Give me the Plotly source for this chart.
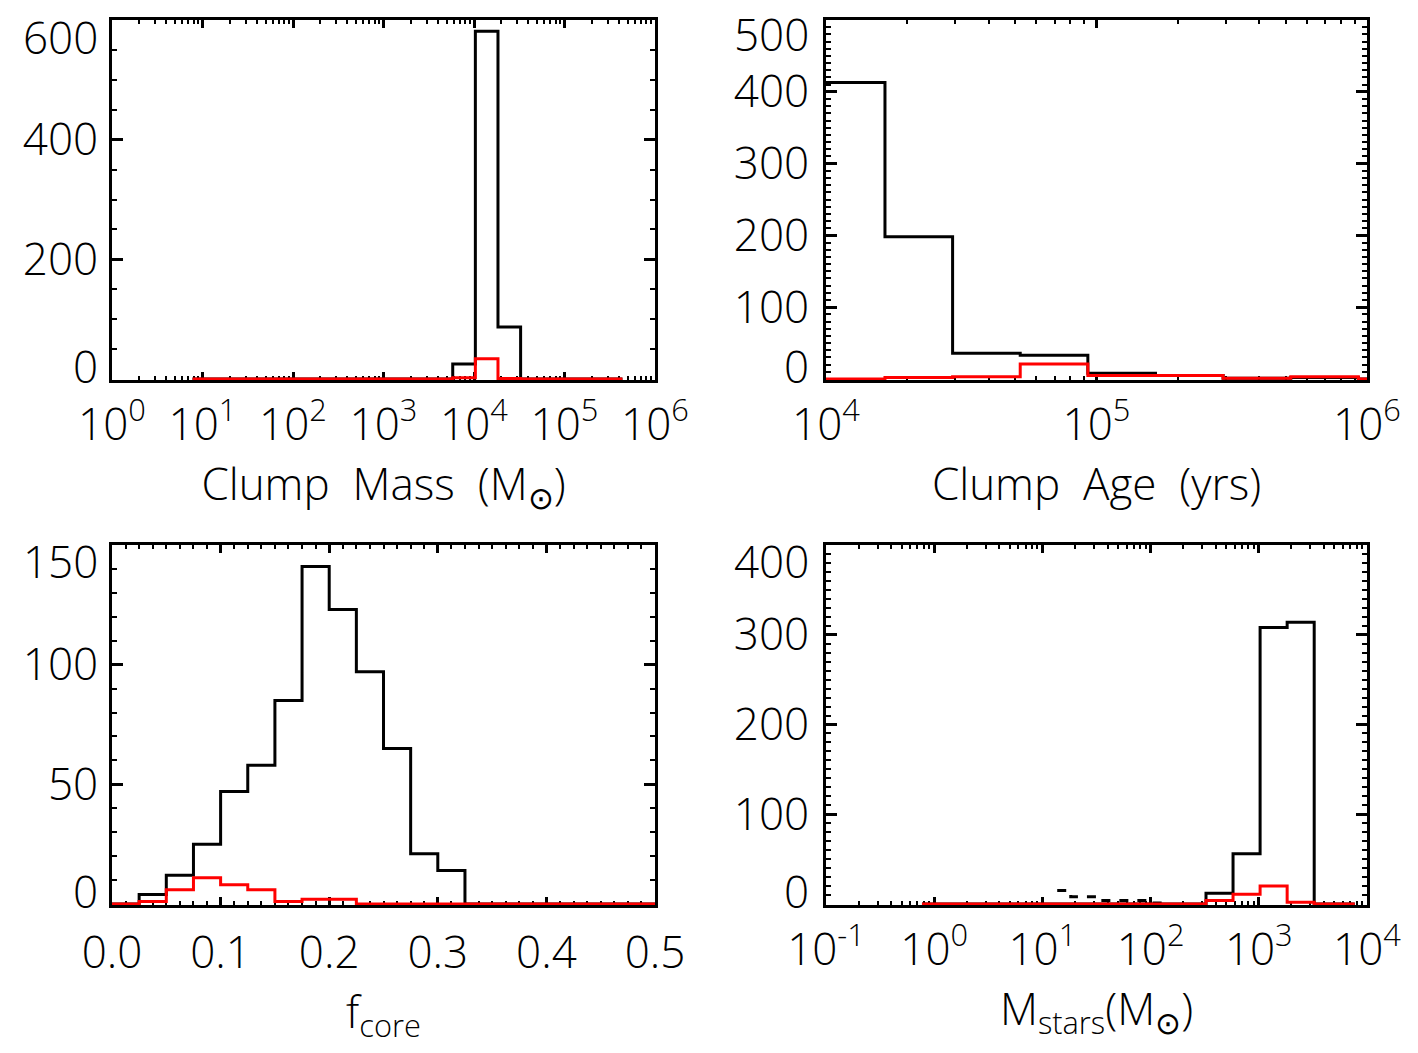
import plotly.graph_objects as go

# ---------------- data (histograms, IDL psym=10 style: bin centres + counts) ----------------
# Panel 1: clump mass, log10(M/Msun) bin centres
mass_logc = [0.89, 1.14, 1.39, 1.64, 1.89, 2.14, 2.39, 2.64, 2.89, 3.14,
             3.39, 3.64, 3.89, 4.14, 4.39, 4.64, 4.89, 5.14, 5.39, 5.64]
mass_all = [0, 0, 0, 0, 0, 0, 0, 0, 0, 0, 0, 0, 25, 581, 87, 0, 0, 0, 0, 0]
mass_sel = [0, 0, 0, 0, 0, 0, 0, 0, 0, 0, 0, 0, 2, 34, 1, 0, 0, 0, 0, 0]

# Panel 2: clump age, log10(yr) bin centres
age_logc = [3.843, 4.093, 4.343, 4.593, 4.843, 5.093, 5.343, 5.593, 5.843, 6.093]
age_all = [413, 413, 198, 36, 33, 8, 5, 1, 2, 0]
age_sel = [0, 0, 2, 3, 21, 5, 5, 1, 3, 0]

# Panel 3: core fraction bin centres
fcore_c = [-0.0125, 0.0125, 0.0375, 0.0625, 0.0875, 0.1125, 0.1375, 0.1625, 0.1875,
           0.2125, 0.2375, 0.2625, 0.2875, 0.3125, 0.3375, 0.3625, 0.3875, 0.4125,
           0.4375, 0.4625, 0.4875, 0.5125]
fcore_all = [0, 0, 4, 12, 25, 47, 58, 85, 141, 123, 97, 65, 21, 14, 0, 0, 0, 0, 0, 0, 0, 0]
fcore_sel = [0, 0, 1, 6, 11, 8, 6, 1, 2, 2, 0, 0, 0, 0, 0, 0, 0, 0, 0, 0, 0, 0]

# Panel 4: stellar mass, log10(M/Msun) bin centres
mstar_logc = [-0.113, 0.137, 0.387, 0.637, 0.887, 1.137, 1.387, 1.637, 1.887,
              2.137, 2.387, 2.637, 2.887, 3.137, 3.387, 3.637, 3.887]
mstar_all = [0, 0, 0, 0, 0, 0, 0, 0, 0, 0, 0, 12, 56, 308, 314, 0, 0]
mstar_sel = [0, 0, 0, 0, 0, 0, 0, 0, 0, 0, 0, 4, 11, 20, 2, 0, 0]
# faint, partly hidden low-mass tail of the black histogram
mstar_tail_logc = [1.137, 1.387, 1.637, 1.887, 2.137]
mstar_tail = [15, 8, 4, 4, 1]

# axis tick labels
mass_ticks = [0, 1, 2, 3, 4, 5, 6]
age_ticks = [4, 5, 6]
mstar_ticks = [-1, 0, 1, 2, 3, 4]
fcore_ticks = [0.0, 0.1, 0.2, 0.3, 0.4, 0.5]
mass_yticks = [0, 200, 400, 600]
age_yticks = [0, 100, 200, 300, 400, 500]
fcore_yticks = [0, 50, 100, 150]
mstar_yticks = [0, 100, 200, 300, 400]

# ---------------- figure ----------------
FONT = "Open Sans"
TICKFONT = dict(family=FONT, size=44, color="black", weight=300)
TITLEFONT = dict(family=FONT, size=44, color="black", weight=300)
LW = 3

fig = go.Figure()


def hist(x, y, color, xa, ya, dash="solid"):
    fig.add_trace(go.Scatter(x=x, y=y, mode="lines", line=dict(color=color, width=LW, shape="hvh", dash=dash),
                             xaxis=xa, yaxis=ya, hoverinfo="skip", showlegend=False))


p10 = lambda arr: [10 ** v for v in arr]

hist(p10(mass_logc), mass_all, "black", "x", "y")
hist(p10(mass_logc), mass_sel, "red", "x", "y")
hist(p10(age_logc), age_all, "black", "x2", "y2")
hist(p10(age_logc), age_sel, "red", "x2", "y2")
hist(fcore_c, fcore_all, "black", "x3", "y3")
hist(fcore_c, fcore_sel, "red", "x3", "y3")
hist(p10(mstar_logc), mstar_all, "black", "x4", "y4")
hist(p10(mstar_tail_logc), mstar_tail, "black", "x4", "y4", dash="9px,9px")
hist(p10(mstar_logc), mstar_sel, "red", "x4", "y4")


def log_minors(lo, hi):
    out = []
    for d in range(lo, hi):
        for m in range(2, 10):
            out.append(m * 10 ** d)
    return out


def base_axis(domain, anchor, ticklen, minorlen):
    return dict(domain=domain, anchor=anchor, showline=True, linecolor="black", linewidth=LW,
                mirror="allticks", ticks="inside", ticklen=ticklen, tickwidth=2.5, tickcolor="black",
                showgrid=False, zeroline=False, tickfont=TICKFONT, layer="below traces", automargin=False,
                minor=dict(ticks="inside", ticklen=minorlen, tickwidth=2, tickcolor="black", showgrid=False))


XD_L = [112 / 1418, 655 / 1418]
XD_R = [826 / 1418, 1367 / 1418]
YD_T = [1 - 380 / 1053, 1 - 20 / 1053]
YD_B = [1 - 905 / 1053, 1 - 545 / 1053]


def logx(domain, anchor, ticks, title, standoff):
    a = base_axis(domain, anchor, 8, 4)
    a.update(type="log", range=[ticks[0], ticks[-1]], tickmode="array",
             tickvals=[10 ** t for t in ticks],
             ticktext=["10<sup>%d</sup>" % t for t in ticks], ticklabelstandoff=4,
             title=dict(text=title, font=TITLEFONT, standoff=standoff))
    a["minor"].update(tickmode="array", tickvals=log_minors(ticks[0], ticks[-1]))
    return a


def liny(domain, anchor, yticks, minor_dtick, npx, standoff):
    top = yticks[-1]
    a = base_axis(domain, anchor, 11, 5)
    # end labels are drawn as annotations (nudged inward like the original)
    a.update(range=[-top / npx, top], tickmode="array", tickvals=yticks,
             ticktext=[""] + [str(v) for v in yticks[1:-1]] + [""], ticklabelstandoff=standoff)
    a["minor"].update(dtick=minor_dtick, tick0=0)
    return a


annotations = []


def end_labels(yref, xdom, yticks, xshift, topshift):
    for v, shift in ((yticks[0], 13), (yticks[-1], topshift)):
        annotations.append(dict(x=xdom[0], xref="paper", xanchor="right", xshift=xshift,
                                y=v, yref=yref, yanchor="middle", yshift=shift,
                                text=str(v), showarrow=False, font=TICKFONT))


end_labels("y", XD_L, mass_yticks, -12, -17)
end_labels("y2", XD_R, age_yticks, -15, -14)
end_labels("y3", XD_L, fcore_yticks, -12, -16)
end_labels("y4", XD_R, mstar_yticks, -15, -16)

NB = "\u00a0"
xa3 = base_axis(XD_L, "y3", 8, 4)
xa3.update(range=[0, 0.5], tickmode="array", tickvals=fcore_ticks,
           ticktext=["%.1f" % t for t in fcore_ticks], ticklabelstandoff=7,
           title=dict(text="f<sub>core</sub>", font=TITLEFONT, standoff=12))
xa3["minor"].update(dtick=0.0125, tick0=0)

fig.update_layout(
    width=1418, height=1053, margin=dict(l=0, r=0, t=0, b=0),
    paper_bgcolor="white", plot_bgcolor="white", showlegend=False,
    xaxis=logx(XD_L, "y", mass_ticks, f"Clump{NB}{NB}Mass{NB}{NB}(M<sub>⊙</sub>)", 17),
    yaxis=liny(YD_T, "x", mass_yticks, 50, 360, 2),
    xaxis2=logx(XD_R, "y2", age_ticks, f"Clump{NB}{NB}Age{NB}{NB}(yrs)", 17),
    yaxis2=liny(YD_T, "x2", age_yticks, 10, 360, 5),
    xaxis3=xa3,
    yaxis3=liny(YD_B, "x3", fcore_yticks, 10, 360, 2),
    xaxis4=logx(XD_R, "y4", mstar_ticks, "M<sub>stars</sub>(M<sub>⊙</sub>)", 15),
    yaxis4=liny(YD_B, "x4", mstar_yticks, 10, 360, 5),
    annotations=annotations,
)

fig.write_html("out.html")
